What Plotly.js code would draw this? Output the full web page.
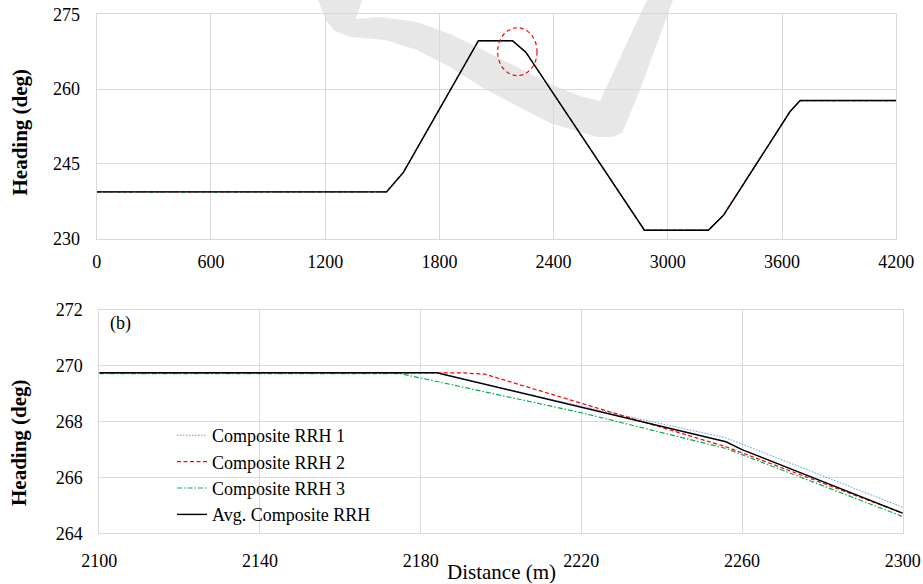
<!DOCTYPE html>
<html>
<head>
<meta charset="utf-8">
<script src="https://cdn.plot.ly/plotly-3.0.1.min.js"></script>
<style>html,body{margin:0;padding:0;background:#fff;}#chart{width:923px;height:584px;}</style>
</head>
<body>
<div id="chart"></div>
<script>
// ---- Panel (a): full route heading (all four series overlap at this scale)
const topDistance = [0, 1523, 1611, 2005, 2184, 2254, 2877, 3213, 3292, 3642, 3695, 4200];
const topHeading  = [239.4, 239.4, 243.3, 269.7, 269.7, 267.4, 231.7, 231.7, 234.7, 255.5, 257.7, 257.7];

// ---- Panel (b): zoom 2100-2300 m
const rrh1Distance = [2100, 2184, 2220, 2256, 2300];
const rrh1Heading  = [269.75, 269.75, 268.55, 267.42, 264.93];
const rrh2Distance = [2100, 2190, 2196, 2256, 2300];
const rrh2Heading  = [269.75, 269.75, 269.70, 267.10, 264.72];
const rrh3Distance = [2100, 2175, 2220, 2256, 2300];
const rrh3Heading  = [269.72, 269.72, 268.32, 267.04, 264.60];
const avgDistance  = [2100, 2184, 2256, 2260, 2300];
const avgHeading   = [269.75, 269.75, 267.28, 267.00, 264.72];

const seriesNames = ['Composite RRH 1', 'Composite RRH 2', 'Composite RRH 3', 'Avg. Composite RRH'];
const topTicksX = [0, 600, 1200, 1800, 2400, 3000, 3600, 4200];
const topTicksY = [230, 245, 260, 275];
const botTicksX = [2100, 2140, 2180, 2220, 2260, 2300];
const botTicksY = [264, 266, 268, 270, 272];

const W = 923, H = 584;
const FONT = 'Liberation Serif, Times New Roman, serif';
const px = x => x / W;
const py = y => 1 - y / H;

const styles = [
  {color: '#5b9bd5', width: 1, dash: '1.5px,1.5px'},
  {color: '#ff0000', width: 1.2, dash: '4px,2.5px'},
  {color: '#00b050', width: 1.2, dash: '5px,2px,1.5px,2px'},
  {color: '#000000', width: 1.4, dash: 'solid'}
];

const traces = [];
// top panel
for (let i = 0; i < 4; i++) {
  traces.push({x: topDistance, y: topHeading, xaxis: 'x', yaxis: 'y', mode: 'lines',
    line: styles[i], name: seriesNames[i], showlegend: false, hoverinfo: 'skip'});
}
// bottom panel
const botX = [rrh1Distance, rrh2Distance, rrh3Distance, avgDistance];
const botY = [rrh1Heading, rrh2Heading, rrh3Heading, avgHeading];
for (let i = 0; i < 4; i++) {
  traces.push({x: botX[i], y: botY[i], xaxis: 'x2', yaxis: 'y2', mode: 'lines',
    line: styles[i], name: seriesNames[i], showlegend: true});
}

const axisCommon = {
  showgrid: true, gridcolor: '#d9d9d9', gridwidth: 1,
  zeroline: false, showline: true, linecolor: '#d9d9d9', linewidth: 1, mirror: true,
  ticks: '', tickfont: {family: FONT, size: 18, color: '#000'}, fixedrange: true
};

// watermark swoosh (decorative), pixel points converted to paper coords
const wm = [[318,0],[362,0],[358,12],[356,19],[380,17],[417,22],[450,34],[483,50],[517,67],[550,84],[580,96],[600,101],
            [625,47],[647,0],[673,0],[640,90],[622,133],[612,137],[597,137],[550,123],[517,106],[483,88],[450,67],
            [417,50],[385,40],[350,37],[335,31],[327,22],[322,10]];
const wmPath = 'M ' + wm.map(p => px(p[0]).toFixed(4) + ',' + py(p[1]).toFixed(4)).join(' L ') + ' Z';

const layout = {
  width: W, height: H,
  margin: {l: 0, r: 0, t: 0, b: 0},
  paper_bgcolor: '#fff', plot_bgcolor: 'rgba(0,0,0,0)',
  showlegend: true,
  xaxis: Object.assign({}, axisCommon, {domain: [px(96.7), px(896.3)], anchor: 'y', range: [0, 4200],
    tickvals: topTicksX, ticklabelstandoff: 7}),
  yaxis: Object.assign({}, axisCommon, {domain: [py(238.7), py(14.3)], anchor: 'x', range: [230, 275],
    tickvals: topTicksY, ticklabelstandoff: 12}),
  xaxis2: Object.assign({}, axisCommon, {domain: [px(99.3), px(902.7)], anchor: 'y2', range: [2100, 2300],
    tickvals: botTicksX, ticklabelstandoff: 11}),
  yaxis2: Object.assign({}, axisCommon, {domain: [py(533.3), py(310)], anchor: 'x2', range: [264, 272],
    tickvals: botTicksY, ticklabelstandoff: 12}),
  legend: {x: px(172), y: py(417), xanchor: 'left', yanchor: 'top', bgcolor: 'rgba(0,0,0,0)',
    borderwidth: 0, font: {family: FONT, size: 18, color: '#000'}, tracegroupgap: 0},
  shapes: [
    {type: 'path', xref: 'paper', yref: 'paper', path: wmPath, layer: 'below',
      fillcolor: 'rgba(170,170,170,0.28)', line: {width: 0}},
    {type: 'circle', xref: 'x', yref: 'y', x0: 2106, x1: 2313, y0: 262.7, y1: 272.3,
      line: {color: '#ff0000', width: 1.2, dash: '4px,3px'}}
  ],
  annotations: [
    {text: '<b>Heading (deg)</b>', xref: 'paper', yref: 'paper', x: px(19), y: py(132.5), textangle: -90,
      showarrow: false, font: {family: FONT, size: 21, color: '#000'}, xanchor: 'center', yanchor: 'middle'},
    {text: '<b>Heading (deg)</b>', xref: 'paper', yref: 'paper', x: px(19), y: py(443), textangle: -90,
      showarrow: false, font: {family: FONT, size: 21, color: '#000'}, xanchor: 'center', yanchor: 'middle'},
    {text: 'Distance (m)', xref: 'paper', yref: 'paper', x: px(501), y: py(572), 
      showarrow: false, font: {family: FONT, size: 21, color: '#000'}, xanchor: 'center', yanchor: 'middle'},
    {text: '(b)', xref: 'paper', yref: 'paper', x: px(108), y: py(323.5),
      showarrow: false, font: {family: FONT, size: 18, color: '#000'}, xanchor: 'left', yanchor: 'middle'}
  ]
};

Plotly.newPlot('chart', traces, layout, {staticPlot: true, displayModeBar: false});
</script>
</body>
</html>
